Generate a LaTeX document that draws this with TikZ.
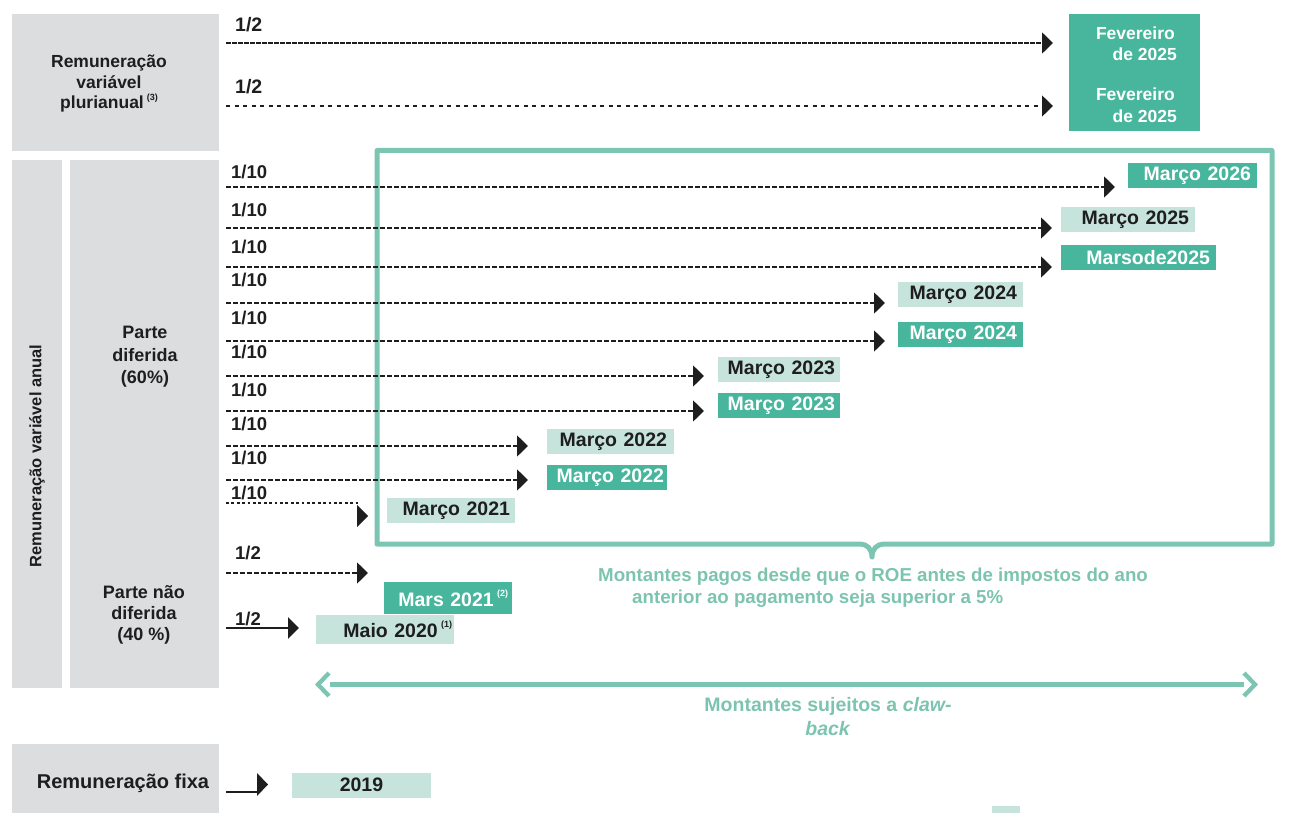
\documentclass[tikz,border=0pt]{standalone}
\usepackage{fontspec}
\setmainfont{Liberation Sans}
\usetikzlibrary{arrows.meta}
\definecolor{grayF}{HTML}{DCDDDF}
\definecolor{tealF}{HTML}{48B59D}
\definecolor{lightF}{HTML}{C6E4DB}
\definecolor{tealL}{HTML}{7DC5B3}
\definecolor{tealT}{HTML}{7CC4AF}
\definecolor{darkT}{HTML}{1E1E1E}
\newcommand\supnum[1]{\,\raisebox{0.5em}{\fontsize{9}{9}\selectfont(#1)}}
\tikzset{
  lbl/.style={anchor=west, inner sep=0pt, text=darkT, font=\bfseries\fontsize{18.5}{20}\selectfont},
  side/.style={inner sep=0pt, text=darkT, align=center, font=\bfseries\fontsize{17.5}{20.5}\selectfont},
  datebox/.style={inner ysep=0pt, align=right, minimum height=25pt, font=\bfseries\fontsize{19.5}{22}\selectfont},
  tealbox/.style={datebox, fill=tealF, text=white},
  lightbox/.style={datebox, fill=lightF, text=darkT},
  tip/.style={-{Triangle[length=11pt,width=21pt]}},
  darr/.style={draw=darkT, line width=1.6pt, dash pattern=on 4.5pt off 2.5pt, tip},
  darrdense/.style={draw=darkT, line width=1.7pt, dash pattern=on 4.5pt off 1.5pt, tip},
  darrsparse/.style={draw=darkT, line width=1.4pt, dash pattern=on 4pt off 4.5pt, tip},
  sarr/.style={draw=darkT, line width=2.6pt, tip},
  outl/.style={draw=tealL, line width=5pt, line join=round},
  claw/.style={draw=tealL, line width=4.3pt},
  note/.style={inner sep=0pt, text=tealT, font=\bfseries\fontsize{18.7}{22}\selectfont},
}
\begin{document}
\begin{tikzpicture}[x=1pt,y=-1pt]
\useasboundingbox (0,0) rectangle (1306,813);

% gray blocks
\fill[grayF] (12,14) rectangle (219,151);
\fill[grayF] (12,160) rectangle (62,688);
\fill[grayF] (70,160) rectangle (219,688);
\fill[grayF] (12,744) rectangle (219,813);

\node[side] (plur) at (109,84) {Remuneração\\variável\\plurianual\supnum{3}};
\node[side, rotate=90, font=\bfseries\fontsize{16.5}{19}\selectfont] (rva) at (37,456) {Remuneração variável anual};
\node[side, font=\bfseries\fontsize{18}{22.5}\selectfont] (pdif) at (145,357) {Parte\\diferida\\(60\%)};
\node[side, font=\bfseries\fontsize{18}{21}\selectfont] (pndif) at (144,615) {Parte não\\diferida\\(40 \%)};
\node[side, font=\bfseries\fontsize{20}{23}\selectfont] (fixa) at (123,783) {Remuneração fixa};

% teal outline with notch
\draw[outl] (377,150.5) -- (1272,150.5) -- (1272,544) -- (884,544)
  .. controls (877,544) and (872,549) .. (872,557)
  .. controls (872,549) and (867,544) .. (860,544) -- (377,544) -- cycle;

% plurianual rows
\node[lbl, font=\bfseries\fontsize{19.5}{20}\selectfont] (l1) at (235,25) {1/2};
\node[lbl, font=\bfseries\fontsize{19.5}{20}\selectfont] (l2) at (235,87) {1/2};
\coordinate (s1) at (226,43); \coordinate (e1) at (1053,43);
\coordinate (s2) at (226,106); \coordinate (e2) at (1053,106);
\draw[darrdense] (s1) -- (e1);
\draw[darrsparse] (s2) -- (e2);
\node[fill=tealF, minimum width=131pt, minimum height=117pt, inner sep=0pt] (fev) at (1134.5,72.5) {};
\node[anchor=east, inner sep=0pt, text=white, font=\bfseries\fontsize{17.5}{20}\selectfont] (fev1) at (1175,33) {Fevereiro};
\node[anchor=east, inner sep=0pt, text=white, font=\bfseries\fontsize{17.5}{20}\selectfont] (fev2) at (1177,54) {de 2025};
\node[anchor=east, inner sep=0pt, text=white, font=\bfseries\fontsize{17.5}{20}\selectfont] (fev3) at (1175,94) {Fevereiro};
\node[anchor=east, inner sep=0pt, text=white, font=\bfseries\fontsize{17.5}{20}\selectfont] (fev4) at (1177,116) {de 2025};

% deferred labels
\foreach \yy [count=\i] in {172,210,247,280,318,352,390,424,458,493}{
  \node[lbl] (t\i) at (231,\yy) {1/10};
}
% deferred arrows
\foreach \yy/\xe [count=\i] in {187/1115,228/1052,267/1052,303/885,341/885,376/704,411/704,446/528,480/528}{
  \coordinate (ds\i) at (226,\yy);
  \coordinate (de\i) at (\xe,\yy);
  \draw[darr] (ds\i) -- (de\i);
}
\coordinate (ds10) at (226,503); \coordinate (de10) at (360,503);
\draw[darkT, line width=2.6pt, dash pattern=on 2.7pt off 2.7pt] (ds10) -- (de10);
\fill[darkT] (357,505) -- (368,516) -- (357,527) -- cycle;

% date boxes
\node[tealbox, minimum width=129pt, text width=117pt, inner xsep=6pt] (m2026) at (1192.5,175.5) {Março 2026};
\node[lightbox, minimum width=134pt, text width=122pt, inner xsep=6pt] (m2025) at (1128,219.5) {Março 2025};
\node[tealbox, minimum width=155pt, text width=143pt, inner xsep=6pt] (mars25) at (1138.5,257.5) {Marsode2025};
\node[lightbox, minimum width=125pt, text width=113pt, inner xsep=6pt] (m2024a) at (960.5,294.5) {Março 2024};
\node[tealbox, minimum width=125pt, text width=113pt, inner xsep=6pt] (m2024b) at (960.5,334.5) {Março 2024};
\node[lightbox, minimum width=122pt, text width=112pt, inner xsep=5pt] (m2023a) at (779,369.5) {Março 2023};
\node[tealbox, minimum width=122pt, text width=112pt, inner xsep=5pt] (m2023b) at (779,405.5) {Março 2023};
\node[lightbox, minimum width=127pt, text width=113pt, inner xsep=7pt] (m2022a) at (610.5,441.5) {Março 2022};
\node[tealbox, minimum width=120pt, text width=114pt, inner xsep=3pt] (m2022b) at (607,477.5) {Março 2022};
\node[lightbox, minimum width=128pt, text width=118pt, inner xsep=5pt] (m2021) at (451,510.5) {Março 2021};

% non deferred
\node[lbl] (n1) at (235,553) {1/2};
\node[lbl] (n2) at (235,619) {1/2};
\coordinate (ns1) at (226,573); \coordinate (ne1) at (368,573);
\coordinate (ns2) at (226,628); \coordinate (ne2) at (299,628);
\draw[darr] (ns1) -- (ne1);
\draw[sarr] (ns2) -- (ne2);
\node[tealbox, minimum width=128pt, minimum height=32pt, text width=120pt, inner xsep=4pt] (mars21) at (448,598) {Mars 2021\supnum{2}};
\node[lightbox, minimum width=138pt, minimum height=29pt, text width=134pt, inner xsep=2pt] (maio20) at (385,629.5) {Maio 2020\supnum{1}};

% notes
\node[note, anchor=west] (roe1) at (598,577) {Montantes pagos desde que o ROE antes de impostos do ano};
\node[note, anchor=west] (roe2) at (632,599) {anterior ao pagamento seja superior a 5\%};

% clawback arrow
\coordinate (cl1) at (330,684.5); \coordinate (cl2) at (1244,684.5);
\draw[claw] (cl1) -- (cl2);
\draw[claw, line join=miter] (329,673) -- (318,684.5) -- (329,696);
\draw[claw, line join=miter] (1244,673) -- (1255,684.5) -- (1244,696);
\node[note, font=\bfseries\fontsize{19.5}{22}\selectfont] (cb1) at (828,706) {Montantes sujeitos a \textit{claw-}};
\node[note, font=\bfseries\fontsize{19.5}{22}\selectfont] (cb2) at (828,729) {\textit{back}};

% fixed
\coordinate (fs) at (226,792); \coordinate (fe) at (260,792);
\draw[darkT, line width=2.6pt] (fs) -- (fe);
\fill[darkT] (257,773) -- (268,784.5) -- (257,796) -- cycle;
\node[lightbox, minimum width=139pt, text width=139pt, inner xsep=0pt, align=center] (y2019) at (361.5,785) {2019};
\fill[lightF] (992,806) rectangle (1020,813);
\end{tikzpicture}
\end{document}
